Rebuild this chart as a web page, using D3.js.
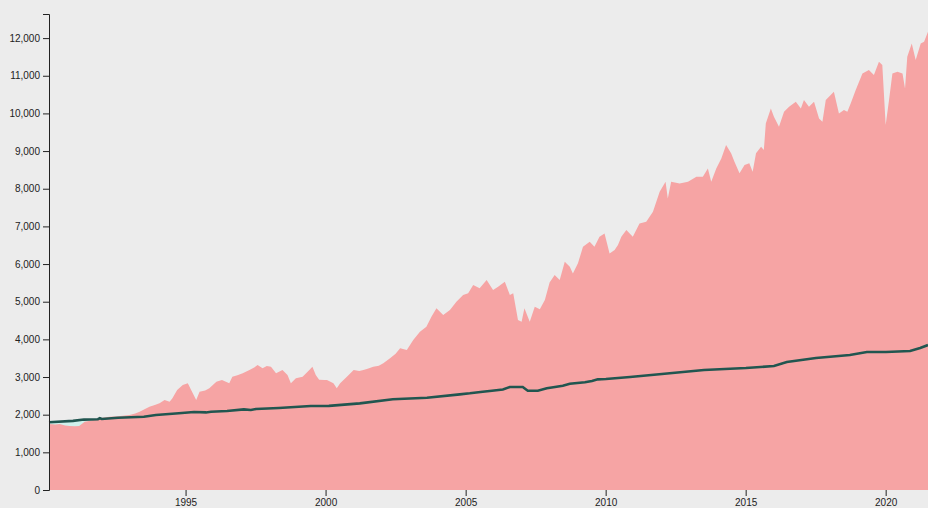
<!DOCTYPE html>
<html>
<head>
<meta charset="utf-8">
<script src="https://cdn.jsdelivr.net/npm/d3@7"></script>
<style>
  html, body { margin: 0; padding: 0; background: #ececec; }
  svg { display: block; }
  .axis text { font-family: "Liberation Sans", Arial, sans-serif; font-size: 10px; fill: #222; }
  .axis line, .axis path { stroke: #222; }
</style>
</head>
<body>
<svg id="chart" width="928" height="508"></svg>
<script>
// Index (pink area) — decimal year and value
const indexYears = [1990.123,1990.35,1990.5,1990.7,1990.86,1991.05,1991.2,1991.4,1991.6,1991.93,1992.1,1992.29,1992.6,1993.0,1993.2,1993.36,1993.55,1993.71,1993.9,1994.07,1994.25,1994.43,1994.53,1994.7,1994.9,1995.08,1995.2,1995.38,1995.5,1995.7,1995.85,1996.1,1996.3,1996.56,1996.67,1996.85,1997.04,1997.28,1997.45,1997.57,1997.75,1997.9,1998.05,1998.23,1998.46,1998.64,1998.76,1998.94,1999.18,1999.42,1999.53,1999.65,1999.77,1999.95,2000.05,2000.28,2000.4,2000.52,2000.76,2001.0,2001.2,2001.35,2001.5,2001.7,2001.9,2002.06,2002.3,2002.5,2002.66,2002.9,2003.13,2003.37,2003.6,2003.78,2003.96,2004.2,2004.44,2004.67,2004.91,2005.09,2005.27,2005.5,2005.75,2005.98,2006.16,2006.4,2006.58,2006.7,2006.87,2007.0,2007.1,2007.29,2007.47,2007.65,2007.83,2008.0,2008.18,2008.36,2008.54,2008.72,2008.83,2009.01,2009.19,2009.43,2009.6,2009.78,2009.96,2010.14,2010.32,2010.44,2010.56,2010.74,2010.97,2011.21,2011.45,2011.69,2011.93,2012.14,2012.22,2012.34,2012.64,2012.94,2013.24,2013.47,2013.65,2013.77,2013.95,2014.13,2014.3,2014.48,2014.6,2014.78,2014.96,2015.13,2015.25,2015.37,2015.55,2015.65,2015.72,2015.9,2016.01,2016.19,2016.37,2016.55,2016.79,2016.97,2017.08,2017.26,2017.44,2017.62,2017.74,2017.86,2018.15,2018.33,2018.51,2018.63,2018.75,2018.93,2019.17,2019.4,2019.58,2019.76,2019.88,2020.0,2020.12,2020.24,2020.42,2020.6,2020.69,2020.77,2020.93,2021.07,2021.25,2021.37,2021.51];
const indexValues = [1752,1740,1752,1710,1700,1690,1700,1814,1840,1903,1925,1947,1960,1991,2030,2079,2150,2212,2260,2301,2390,2345,2434,2655,2788,2832,2655,2390,2610,2640,2700,2876,2920,2832,3008,3050,3097,3186,3250,3319,3230,3290,3274,3097,3186,3053,2832,2965,3008,3186,3274,3053,2930,2920,2920,2832,2700,2832,3008,3186,3160,3186,3220,3274,3300,3363,3496,3620,3762,3717,3982,4203,4336,4601,4823,4646,4779,5000,5177,5222,5443,5355,5576,5310,5398,5531,5177,5222,4513,4468,4823,4468,4867,4800,5044,5510,5708,5576,6062,5929,5752,6018,6460,6593,6460,6725,6814,6283,6372,6505,6725,6903,6725,7080,7124,7389,7920,8186,7744,8186,8142,8186,8318,8318,8540,8186,8540,8806,9160,8939,8717,8408,8629,8674,8451,8939,9115,9027,9735,10133,9912,9646,10044,10177,10310,10133,10354,10177,10310,9868,9779,10354,10575,10000,10089,10044,10266,10620,11063,11151,11018,11372,11284,9691,10354,11063,11107,11063,10664,11505,11859,11417,11859,11903,12168];

// Benchmark (dark line)
const benchYears = [1990.123,1990.98,1991.37,1991.87,1991.94,1992.01,1992.59,1993.51,1993.94,1994.76,1995.30,1995.73,1995.91,1996.48,1997.08,1997.33,1997.51,1998.33,1999.47,2000.12,2001.22,2002.40,2003.62,2004.79,2005.15,2005.61,2005.94,2006.33,2006.58,2007.04,2007.22,2007.58,2007.90,2008.19,2008.47,2008.72,2009.26,2009.51,2009.72,2010.01,2010.87,2012.01,2013.51,2015.01,2016.01,2016.47,2017.51,2018.72,2019.33,2020.01,2020.87,2021.23,2021.51];
const benchValues = [1800,1835,1870,1880,1905,1885,1920,1947,1991,2036,2071,2060,2079,2097,2142,2125,2150,2177,2230,2235,2300,2408,2451,2540,2567,2610,2637,2670,2735,2735,2637,2637,2700,2735,2770,2823,2859,2894,2938,2947,3000,3080,3186,3239,3292,3398,3504,3584,3664,3664,3690,3770,3850];

// Axis ticks
const yTicks = [0,1000,2000,3000,4000,5000,6000,7000,8000,9000,10000,11000,12000];
const xTickYears = [1995,2000,2005,2010,2015,2020];

const toDate = y => {
  const yr = Math.floor(y);
  const start = Date.UTC(yr, 0, 1), end = Date.UTC(yr + 1, 0, 1);
  return new Date(start + (y - yr) * (end - start));
};

const indexData = indexYears.map((y, i) => ({ date: toDate(y), value: indexValues[i] }));
const benchData = benchYears.map((y, i) => ({ date: toDate(y), value: benchValues[i] }));

const svg = d3.select("#chart");
const margin = { left: 49, top: 14, bottom: 18 };
const W = 928, H = 508;

const x = d3.scaleUtc()
  .domain([toDate(1990.123), toDate(2021.51)])
  .range([margin.left, W]);
const y = d3.scaleLinear()
  .domain([0, 12640])
  .range([H - margin.bottom, margin.top]);

// cyan area under benchmark (visible where benchmark exceeds index)
const benchArea = d3.area().x(d => x(d.date)).y0(y(0)).y1(d => y(d.value));
svg.append("path").datum(benchData)
  .attr("fill", "#d0f1ec")
  .attr("d", benchArea);

// pink index area
const idxArea = d3.area().x(d => x(d.date)).y0(y(0)).y1(d => y(d.value));
svg.append("path").datum(indexData)
  .attr("fill", "#f6a4a4")
  .attr("d", idxArea);

// benchmark line
const line = d3.line().x(d => x(d.date)).y(d => y(d.value));
svg.append("path").datum(benchData)
  .attr("fill", "none")
  .attr("stroke", "#215650")
  .attr("stroke-width", 2.6)
  .attr("d", line);

// axes
const xAxis = d3.axisBottom(x)
  .tickValues(xTickYears.map(v => toDate(v)))
  .tickFormat(d3.utcFormat("%Y"))
  .tickSizeOuter(0);
const gx = svg.append("g").attr("class", "axis")
  .attr("transform", `translate(0,${y(0)})`)
  .call(xAxis);
gx.select(".domain").remove();

const yAxis = d3.axisLeft(y).tickValues(yTicks).tickFormat(d3.format(","));
svg.append("g").attr("class", "axis")
  .attr("transform", `translate(${margin.left},0)`)
  .call(yAxis);
</script>
</body>
</html>
